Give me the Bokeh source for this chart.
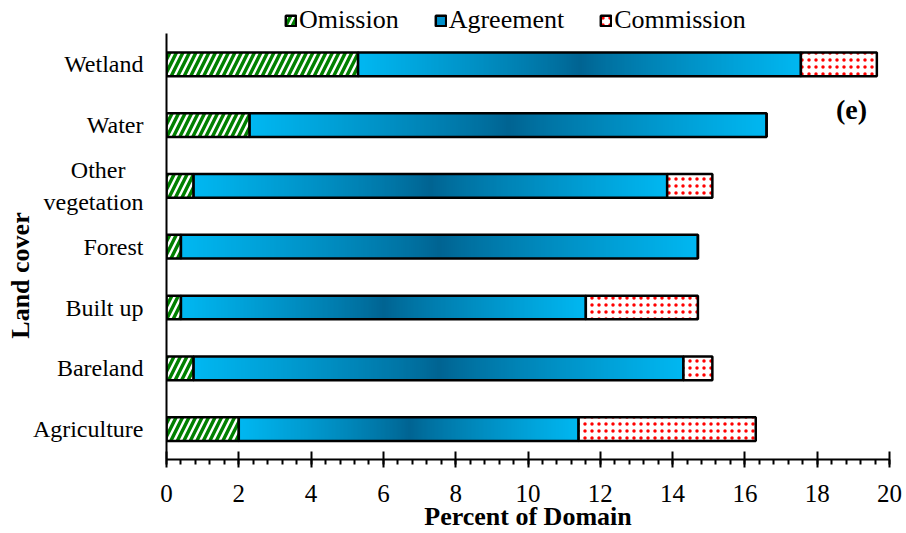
import numpy as np
from bokeh.plotting import figure
from bokeh.models import (ColumnDataSource, Range1d, FixedTicker, SingleIntervalTicker,
                          Legend, LegendItem, Label)
from bokeh.embed import file_html
from bokeh.resources import INLINE

NBSP = "\u00a0"

# Land-cover classes, bottom to top
categories = ["Agriculture", "Bareland", "Built up", "Forest",
              "Other" + NBSP * 3 + "\nvegetation", "Water", "Wetland"]
# Percent of domain for each component of the stacked bars
omission = [2.0, 0.75, 0.4, 0.4, 0.75, 2.3, 5.3]
agreement = [9.4, 13.55, 11.2, 14.3, 13.1, 14.3, 12.25]
commission = [4.9, 0.8, 3.1, 0.0, 1.25, 0.0, 2.1]

rows = list(range(len(categories)))
omit_end = omission
agree_end = [o + a for o, a in zip(omission, agreement)]
comm_end = [e + c for e, c in zip(agree_end, commission)]

BAR_H = 0.39
FONT = "Liberation Serif"

src = ColumnDataSource(dict(
    y=rows, zero=[0.0] * len(rows), omit_end=omit_end,
    agree_end=agree_end, comm_end=comm_end,
    y0=[r - BAR_H / 2 for r in rows], agreement=agreement,
    dh=[BAR_H] * len(rows),
))

# The y range reaches a little past the top row to leave room for the legend
p = figure(width=906, height=533, output_backend="svg", toolbar_location=None,
           x_range=Range1d(0, 20), y_range=Range1d(-0.5, 7.05),
           min_border_left=166, min_border_right=17, min_border_top=0,
           min_border_bottom=70)
p.outline_line_color = None
p.grid.grid_line_color = None
p.background_fill_color = "white"

# Omission: green with white diagonal stripes
r_om = p.hbar(y="y", left="zero", right="omit_end", height=BAR_H, source=src,
              fill_color="#008000", hatch_pattern="right_diagonal_line",
              hatch_color="white", hatch_weight=2.4, hatch_scale=13,
              line_color="black", line_width=2.5)

# Agreement: blue bar shaded dark towards its middle
r_ag_fill = p.hbar(y="y", left="omit_end", right="agree_end", height=BAR_H,
                   source=src, fill_color="#0090CC", line_color=None)
n = 256
t = np.linspace(0.0, 1.0, n)
d = np.abs(t - 0.5) * 2.0
light = np.array([0, 184, 242], dtype=float)
dark = np.array([0, 100, 146], dtype=float)
rgb = dark + (light - dark) * (d[:, None] ** 0.85)
shade = np.zeros((1, n), dtype=np.uint32)
view = shade.view(dtype=np.uint8).reshape((1, n, 4))
view[0, :, :3] = rgb.astype(np.uint8)
view[0, :, 3] = 255
src.data["shade"] = [shade] * len(rows)
p.image_rgba(image="shade", x="omit_end", y="y0", dw="agreement", dh="dh",
             source=src)
r_ag_line = p.hbar(y="y", left="omit_end", right="agree_end", height=BAR_H,
                   source=src, fill_color=None, line_color="black", line_width=2.5)

# Commission: white with red dots
r_cm = p.hbar(y="y", left="agree_end", right="comm_end", height=BAR_H, source=src,
              fill_color="white", hatch_pattern="dot", hatch_color="red",
              hatch_scale=7, hatch_weight=2.5,
              line_color="black", line_width=2.5)

# X axis
xa = p.xaxis[0]
xa.ticker = SingleIntervalTicker(interval=2, num_minor_ticks=5)
xa.axis_label = "Percent of Domain"
xa.axis_label_text_font = FONT
xa.axis_label_text_font_style = "bold"
xa.axis_label_text_font_size = "26px"
xa.axis_label_text_color = "black"
xa.axis_label_standoff = -3
xa.major_label_text_font = FONT
xa.major_label_text_font_size = "25px"
xa.major_label_text_color = "black"
xa.major_label_standoff = 17
xa.axis_line_color = "black"
xa.axis_line_width = 2
xa.major_tick_line_color = "black"
xa.major_tick_line_width = 2
xa.major_tick_in = 8
xa.major_tick_out = 8
xa.minor_tick_line_color = "black"
xa.minor_tick_line_width = 2
xa.minor_tick_in = 0
xa.minor_tick_out = 5

# Y axis (line drawn only over the category rows)
ya = p.yaxis[0]
ya.ticker = FixedTicker(ticks=rows)
ya.bounds = (-0.5, 6.5)
ya.major_label_overrides = {r: c for r, c in zip(rows, categories)}
ya.axis_label = "Land cover" + NBSP * 14
ya.axis_label_text_font = FONT
ya.axis_label_text_font_style = "bold"
ya.axis_label_text_font_size = "26px"
ya.axis_label_text_color = "black"
ya.axis_label_standoff = -5
ya.major_label_text_font = FONT
ya.major_label_text_font_size = "24px"
ya.major_label_text_color = "black"
ya.major_label_standoff = 17
ya.axis_line_color = "black"
ya.axis_line_width = 2
ya.major_tick_line_color = None
ya.minor_tick_line_color = None

# Panel tag
p.add_layout(Label(x=18.95, y=5.25, text="(e)", text_font=FONT,
                   text_font_style="bold", text_font_size="28px",
                   text_color="black",
                   text_align="center", text_baseline="middle"))

# Legend along the top edge
legend = Legend(items=[
    LegendItem(label="Omission", renderers=[r_om]),
    LegendItem(label="Agreement", renderers=[r_ag_fill, r_ag_line]),
    LegendItem(label="Commission", renderers=[r_cm]),
], orientation="horizontal", location=(118, 424),
    label_text_font=FONT, label_text_font_size="26px", label_text_color="black",
    glyph_width=13, glyph_height=13, label_standoff=2, spacing=35,
    padding=0, margin=0, border_line_color=None, background_fill_alpha=0)
p.add_layout(legend, "center")

open("out.html", "w").write(file_html(p, INLINE))
